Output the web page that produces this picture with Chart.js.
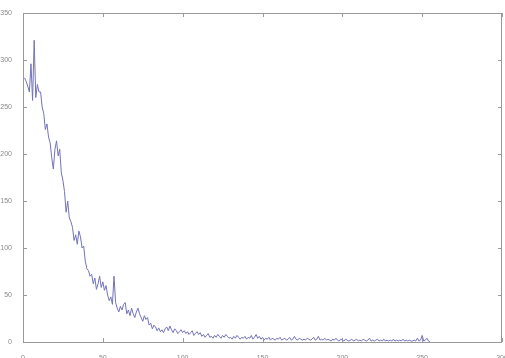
<!DOCTYPE html>
<html>
<head>
<meta charset="utf-8">
<script src="https://cdn.jsdelivr.net/npm/chart.js@4/dist/chart.umd.min.js"></script>
<style>
  html, body { margin: 0; padding: 0; background: #fff; }
  canvas { display: block; }
</style>
</head>
<body>
<canvas id="plot" width="505" height="358"></canvas>
<script>
// values, one per x = 1..255
const counts = [
    281, 277, 272, 266, 296, 257, 321, 260, 274, 266,
    266, 250, 243, 226, 232, 218, 212, 196, 184, 205,
    214, 198, 205, 180, 172, 160, 138, 150, 132, 128,
    122, 108, 114, 104, 118, 112, 100, 102, 86, 78,
    76, 70, 72, 62, 68, 56, 62, 70, 58, 64,
    55, 60, 50, 44, 48, 40, 70, 42, 36, 32,
    38, 34, 40, 42, 30, 34, 28, 36, 30, 26,
    32, 36, 30, 26, 22, 28, 24, 26, 18, 20,
    14, 18, 16, 12, 15, 11, 13, 10, 14, 16,
    12, 17, 13, 10, 14, 12, 9, 11, 13, 10,
    12, 9, 11, 8, 10, 12, 7, 9, 11, 8,
    10, 6, 8, 5, 7, 9, 5, 6, 4, 7,
    5, 8, 6, 4, 7, 5, 8, 6, 4, 5,
    3, 6, 4, 7, 5, 3, 5, 4, 6, 3,
    5, 4, 7, 3, 5, 8, 4, 6, 3, 5,
    2, 4, 3, 5, 2, 4, 3, 2, 4, 3,
    5, 2, 3, 4, 2, 3, 5, 2, 3, 6,
    3, 2, 4, 3, 2, 3, 2, 4, 3, 2,
    3, 5, 2, 3, 6, 2, 3, 2, 4, 2,
    3, 2, 1, 3, 2, 4, 2, 1, 3, 2,
    1, 3, 2, 1, 2, 3, 1, 2, 3, 1,
    2, 1, 3, 2, 1, 2, 4, 1, 2, 1,
    2, 3, 1, 2, 1, 3, 1, 2, 1, 2,
    1, 3, 1, 2, 1, 2, 1, 3, 1, 2,
    1, 2, 1, 1, 2, 1, 4, 1, 2, 7,
    1, 2, 4, 1, 0
];
const xTicks = [0, 50, 100, 150, 200, 250, 300];
const yTicks = [0, 50, 100, 150, 200, 250, 300, 350];

const points = counts.map((v, i) => ({ x: i + 1, y: v }));

// matlab style box with inward ticks on all four sides
const boxTicks = {
    id: 'boxTicks',
    afterDraw(chart) {
        const ctx = chart.ctx;
        const a = chart.chartArea;
        const xs = chart.scales.x;
        const ys = chart.scales.y;
        ctx.save();
        ctx.strokeStyle = '#999';
        ctx.lineWidth = 1;
        ctx.strokeRect(a.left + 0.5, a.top + 0.5, a.right - a.left - 1, a.bottom - a.top);
        ctx.beginPath();
        xTicks.forEach(t => {
            const px = Math.round(xs.getPixelForValue(t)) + 0.5;
            ctx.moveTo(px, a.bottom); ctx.lineTo(px, a.bottom - 4);
            ctx.moveTo(px, a.top); ctx.lineTo(px, a.top + 4);
        });
        yTicks.forEach(t => {
            const py = Math.round(ys.getPixelForValue(t)) + 0.5;
            ctx.moveTo(a.left, py); ctx.lineTo(a.left + 4, py);
            ctx.moveTo(a.right, py); ctx.lineTo(a.right - 4, py);
        });
        ctx.stroke();
        ctx.restore();
    }
};

new Chart(document.getElementById('plot'), {
    type: 'line',
    data: {
        datasets: [{
            data: points,
            borderColor: '#7272bc',
            borderWidth: 1,
            pointRadius: 0,
            tension: 0
        }]
    },
    options: {
        responsive: false,
        animation: false,
        events: [],
        layout: { padding: { top: 13, right: 3, left: 0, bottom: 0 } },
        plugins: { legend: { display: false }, tooltip: { enabled: false } },
        scales: {
            x: {
                type: 'linear',
                min: 0,
                max: 300,
                afterBuildTicks: s => { s.ticks = xTicks.map(v => ({ value: v })); },
                afterFit: s => { s.height = 16; s.paddingLeft = 0; s.paddingRight = 0; },
                grid: { display: false },
                border: { display: false },
                ticks: { color: '#888', font: { size: 7, family: 'Liberation Sans' }, padding: 4, maxRotation: 0 }
            },
            y: {
                min: 0,
                max: 350,
                afterBuildTicks: s => { s.ticks = yTicks.map(v => ({ value: v })); },
                afterFit: s => { s.width = 23; s.paddingTop = 0; s.paddingBottom = 0; },
                grid: { display: false },
                border: { display: false },
                ticks: { color: '#888', font: { size: 7, family: 'Liberation Sans' }, padding: 3 }
            }
        }
    },
    plugins: [boxTicks]
});
</script>
</body>
</html>
